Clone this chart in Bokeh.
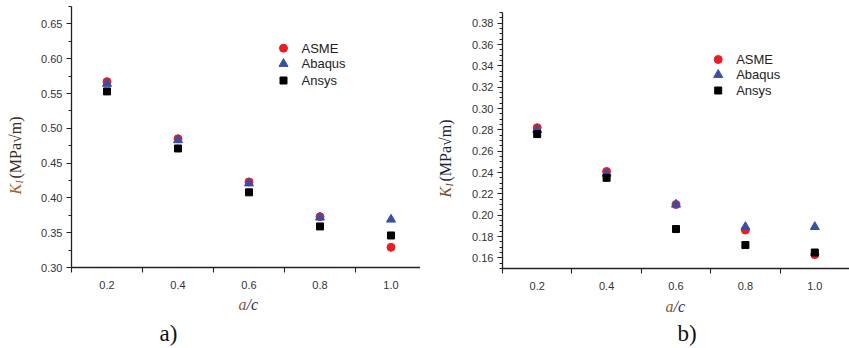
import math
from bokeh.plotting import figure
from bokeh.layouts import row
from bokeh.models import FixedTicker, Range1d, Label, LinearAxis, PrintfTickFormatter
from bokeh.embed import file_html
from bokeh.resources import INLINE

# ---------------- data ----------------
ac = [0.2, 0.4, 0.6, 0.8, 1.0]

asme_a = [0.567, 0.485, 0.423, 0.373, 0.329]
abaqus_a = [0.564, 0.483, 0.421, 0.372, 0.369]
ansys_a = [0.553, 0.471, 0.408, 0.359, 0.346]

asme_b = [0.282, 0.241, 0.210, 0.186, 0.163]
abaqus_b = [0.280, 0.239, 0.210, 0.189, 0.189]
ansys_b = [0.276, 0.235, 0.187, 0.172, 0.165]

series_names = ["ASME", "Abaqus", "Ansys"]
x_ticks = [0.2, 0.4, 0.6, 0.8, 1.0]
x_minor = [0.1, 0.3, 0.5, 0.7, 0.9]
y_ticks_a = [0.30, 0.35, 0.40, 0.45, 0.50, 0.55, 0.60, 0.65]
y_minor_a = [0.325, 0.375, 0.425, 0.475, 0.525, 0.575, 0.625, 0.675]
y_ticks_b = [0.16, 0.18, 0.20, 0.22, 0.24, 0.26, 0.28, 0.30, 0.32, 0.34, 0.36, 0.38]
y_minor_b = [round(0.15 + 0.005 * i, 3) for i in range(49) if i % 4 != 2]
panel_labels = ["a)", "b)"]
x_title = ["a", "/c"]
y_title = ["K", "I", "(MPa\u221am)"]

# ---------------- styles ----------------
RED = "#ec1c24"
BLUE = "#3b4ea6"
BLACK = "#000000"
SANS = "Liberation Sans"
SERIF = "Liberation Serif"


def make_panel(W, H, fl, fr, ft, fb, xr, yr, yt, ym, asme, abaqus, ansys,
               leg, ylab, xlab, plab, kcol, restcol):
    # fl/fr/ft/fb : pixel edges of the plotting box inside this panel
    sx = (fr - fl) / (xr[1] - xr[0])
    sy = (fb - ft) / (yr[1] - yr[0])
    x0 = xr[0] - fl / sx
    x1 = xr[0] + (W - fl) / sx
    y0 = yr[0] - (H - fb) / sy
    y1 = yr[1] + ft / sy

    p = figure(width=W, height=H, output_backend="svg", toolbar_location=None,
               x_range=Range1d(x0, x1), y_range=Range1d(y0, y1),
               x_axis_location=None, y_axis_location=None,
               min_border=0)
    p.grid.visible = False
    p.outline_line_color = None
    p.background_fill_color = "white"
    p.border_fill_color = "white"

    def dx(px):
        return x0 + px / sx

    def dy(py):
        return y0 + (H - py) / sy

    xa = LinearAxis(fixed_location=yr[0], bounds=xr,
                    ticker=FixedTicker(ticks=x_ticks, minor_ticks=x_minor),
                    formatter=PrintfTickFormatter(format="%.1f"))
    ya = LinearAxis(fixed_location=xr[0], bounds=yr,
                    ticker=FixedTicker(ticks=yt, minor_ticks=ym),
                    formatter=PrintfTickFormatter(format="%.2f"))
    for ax in (xa, ya):
        ax.axis_line_color = "#222222"
        ax.axis_line_width = 1.3
        ax.major_tick_line_color = "#222222"
        ax.minor_tick_line_color = "#222222"
        ax.major_tick_line_width = 1.2
        ax.minor_tick_line_width = 1.1
        ax.major_label_text_font = SANS
        ax.major_label_text_font_size = "11px"
        ax.major_label_text_color = "#333333"
        ax.major_tick_in = 0
        ax.minor_tick_in = 0
    xa.major_tick_out = 0
    xa.minor_tick_out = 5
    xa.major_label_standoff = 8
    ya.major_tick_out = 5
    ya.minor_tick_out = 3
    ya.major_label_standoff = 4
    p.add_layout(xa, "below")
    p.add_layout(ya, "left")

    p.scatter(ac, asme, marker="circle", size=8, color=RED)
    p.scatter(ac, abaqus, marker="triangle", size=9, color=BLUE)
    p.scatter(ac, ansys, marker="square", size=7, color=BLACK)

    # legend
    mx, tx, rows = leg
    markers = ["circle", "triangle", "square"]
    cols = [RED, BLUE, BLACK]
    sizes = [8, 9, 7]
    for name, m, c, s, ry in zip(series_names, markers, cols, sizes, rows):
        p.scatter([dx(mx)], [dy(ry)], marker=m, size=s, color=c)
        p.add_layout(Label(x=dx(tx), y=dy(ry), text=name, text_font=SANS,
                           text_font_size="13px", text_color="#222222",
                           text_baseline="middle", text_align="left"))

    # y axis title (rotated)
    lx, ly = ylab
    p.add_layout(Label(x=dx(lx), y=dy(ly), text=y_title[0], text_font=SERIF,
                       text_font_style="italic", text_font_size="16px", text_color=kcol,
                       angle=math.pi / 2, text_align="left", text_baseline="middle"))
    p.add_layout(Label(x=dx(lx + 4), y=dy(ly - 11), text=y_title[1], text_font=SERIF,
                       text_font_style="italic", text_font_size="10px", text_color=kcol,
                       angle=math.pi / 2, text_align="left", text_baseline="middle"))
    p.add_layout(Label(x=dx(lx), y=dy(ly - 16), text=y_title[2], text_font=SERIF,
                       text_font_size="16px", text_color=restcol,
                       angle=math.pi / 2, text_align="left", text_baseline="middle"))

    # x axis title
    xx, xy = xlab
    p.add_layout(Label(x=dx(xx - 1), y=dy(xy), text=x_title[0], text_font=SERIF,
                       text_font_style="italic", text_font_size="16px", text_color="#8a5a2a",
                       text_align="right", text_baseline="middle"))
    p.add_layout(Label(x=dx(xx - 1), y=dy(xy), text=x_title[1], text_font=SERIF,
                       text_font_style="italic", text_font_size="16px", text_color="#2a2a6a",
                       text_align="left", text_baseline="middle"))

    # panel label
    px_, py_, txt = plab
    p.add_layout(Label(x=dx(px_), y=dy(py_), text=txt, text_font=SERIF,
                       text_font_size="23px", text_color="#111111",
                       text_align="center", text_baseline="middle"))
    return p


pa = make_panel(420, 348, 71, 420, 6, 267, (0.1, 0.1 + 349 / 355), (0.30, 0.675),
                y_ticks_a, y_minor_a, asme_a, abaqus_a, ansys_a,
                (283, 301, [47.7, 63.3, 80]), (15, 194), (247, 304), (168, 333, panel_labels[0]),
                "#a0602a", "#3b2a22")
pb = make_panel(429, 348, 82, 429, 12, 268, (0.1, 1.1), (0.15, 0.39),
                y_ticks_b, y_minor_b, asme_b, abaqus_b, ansys_b,
                (297.7, 315.7, [59, 74.3, 90]), (25, 197), (254, 306), (266.7, 333, panel_labels[1]),
                "#7a4a24", "#1e1e3a")

layout = row(pa, pb)
open("out.html", "w").write(file_html(layout, INLINE))
